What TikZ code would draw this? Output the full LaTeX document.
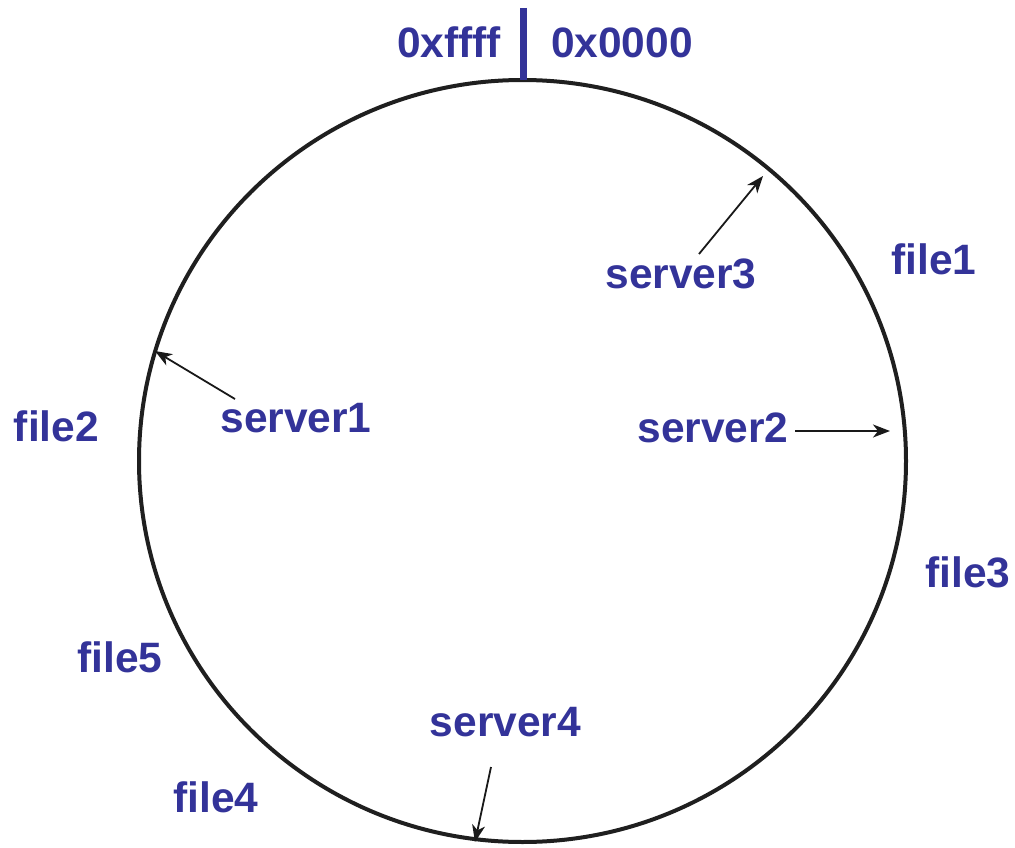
\documentclass[tikz,border=0pt]{standalone}
\usepackage{fontspec}
\setmainfont{Liberation Sans}
\usetikzlibrary{arrows.meta}
\definecolor{lbl}{HTML}{333399}
\tikzset{
  lab/.style={anchor=base, inner sep=0pt, text=lbl, font=\fontsize{42.5}{50}\selectfont\bfseries},
  ptr/.style={draw=black!90, line width=1.8pt, -{Stealth[length=17pt,width=13pt,inset=5pt]}},
  ring/.style={draw=black!88, line width=4pt},
  tick/.style={draw=lbl, line width=7pt}
}
\begin{document}
\begin{tikzpicture}[x=1pt,y=-1pt]
\useasboundingbox (0,0) rectangle (1015,848);
\draw[ring] (522.5,461) ellipse [x radius=383.5, y radius=381];
\coordinate (tt) at (523.5,8);
\coordinate (tb) at (523.5,80);
\draw[tick] (tt) -- (tb);
\node[lab] (hi) at (449,58) {0xffff};
\node[lab] (lo) at (622,58) {0x0000};
\node[lab] (s3) at (681,288) {server3};
\node[lab] (f1) at (934,274) {file1};
\node[lab] (s1) at (296,432) {server1};
\node[lab] (f2) at (56.5,441) {file2};
\node[lab] (s2) at (713,442) {server2};
\node[lab] (f3) at (968,587) {file3};
\node[lab] (f5) at (120,672) {file5};
\node[lab] (s4) at (505.5,736) {server4};
\node[lab] (f4) at (216,812) {file4};
\coordinate (s3a) at (699,254);
\coordinate (s3b) at (763,176);
\coordinate (s1a) at (235,399);
\coordinate (s1b) at (155,351);
\coordinate (s2a) at (795,431);
\coordinate (s2b) at (890,431);
\coordinate (s4a) at (491,767);
\coordinate (s4b) at (475,842);
\draw[ptr] (s3a) -- (s3b);
\draw[ptr] (s1a) -- (s1b);
\draw[ptr] (s2a) -- (s2b);
\draw[ptr] (s4a) -- (s4b);
\end{tikzpicture}
\end{document}
